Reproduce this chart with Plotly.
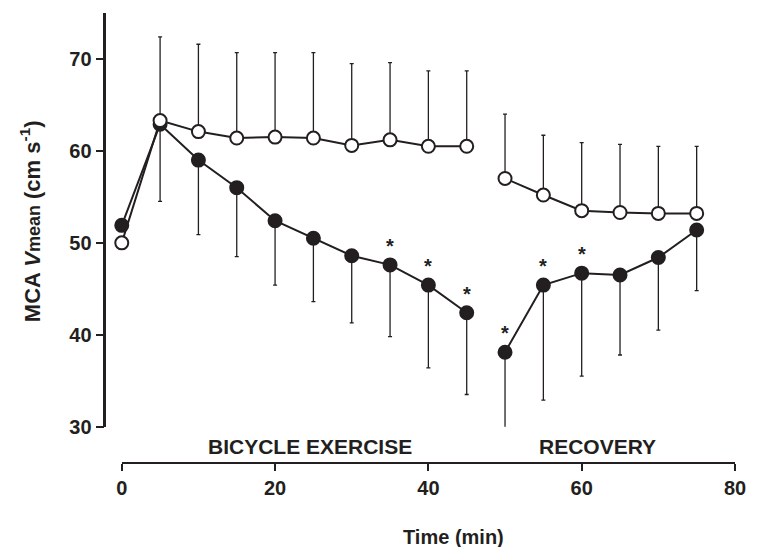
import plotly.graph_objects as go

# ---- data ----
time_exercise = [0, 5, 10, 15, 20, 25, 30, 35, 40, 45]
time_recovery = [50, 55, 60, 65, 70, 75]

closed_exercise = [51.9, 62.9, 59.0, 56.0, 52.4, 50.5, 48.6, 47.6, 45.4, 42.4]
closed_recovery = [38.1, 45.4, 46.7, 46.5, 48.4, 51.4]
closed_sd_exercise = [0, 8.4, 8.1, 7.5, 7.0, 6.9, 7.3, 7.8, 9.0, 8.9]
closed_sd_recovery = [8.2, 12.5, 11.2, 8.7, 7.9, 6.6]

open_exercise = [50.0, 63.3, 62.1, 61.4, 61.5, 61.4, 60.6, 61.2, 60.5, 60.5]
open_recovery = [57.0, 55.2, 53.5, 53.3, 53.2, 53.2]
open_sd_exercise = [0, 9.1, 9.5, 9.3, 9.2, 9.3, 8.9, 8.4, 8.2, 8.2]
open_sd_recovery = [7.0, 6.5, 7.4, 7.4, 7.3, 7.3]

star_times = [35, 40, 45, 50, 55, 60]

x_ticks = [0, 20, 40, 60, 80]
y_ticks = [30, 40, 50, 60, 70]

phase_labels = ["BICYCLE EXERCISE", "RECOVERY"]
phase_centers = [24.5, 62.0]

# ---- style ----
INK = "#231f20"
FONT = "Liberation Sans, Arial, sans-serif"

fig = go.Figure()

def add_series(x, y, sd, filled):
    zeros = [0] * len(sd)
    fig.add_trace(go.Scatter(
        x=x, y=y, mode="lines+markers",
        line=dict(color=INK, width=2),
        marker=dict(size=13, color=INK if filled else "white",
                    line=dict(color=INK, width=2)),
        error_y=dict(type="data", symmetric=False,
                     array=zeros if filled else sd,
                     arrayminus=sd if filled else zeros,
                     color=INK, thickness=1.3, width=2),
        showlegend=False, cliponaxis=False,
    ))

add_series(time_exercise, closed_exercise, closed_sd_exercise, True)
add_series(time_recovery, closed_recovery, closed_sd_recovery, True)
add_series(time_exercise, open_exercise, open_sd_exercise, False)
add_series(time_recovery, open_recovery, open_sd_recovery, False)

all_t = time_exercise + time_recovery
all_c = closed_exercise + closed_recovery

annotations = []
for t in star_times:
    annotations.append(dict(
        x=t, y=all_c[all_t.index(t)], xref="x", yref="y", text="<b>*</b>",
        showarrow=False, yshift=19,
        font=dict(family=FONT, size=20, color=INK),
        xanchor="center", yanchor="middle"))

for lab, cx in zip(phase_labels, phase_centers):
    annotations.append(dict(
        x=cx, y=0.0367, xref="x", yref="paper", text=f"<b>{lab}</b>",
        showarrow=False, font=dict(family=FONT, size=21, color=INK),
        xanchor="center", yanchor="middle"))

annotations.append(dict(
    x=0.5825, y=-0.164, xref="paper", yref="paper", text="<b>Time (min)</b>",
    showarrow=False, font=dict(family=FONT, size=20, color=INK),
    xanchor="center", yanchor="middle"))

annotations.append(dict(
    x=-0.044, y=0.538, xref="paper", yref="paper",
    text="<b>MCA <i>V</i><span style='font-size:18px'>mean</span> (cm s<sup>-1</sup>)</b>",
    textangle=-90, showarrow=False,
    font=dict(family=FONT, size=22, color=INK),
    xanchor="center", yanchor="middle"))

fig.update_layout(
    width=758, height=547,
    margin=dict(l=60, r=13, t=13, b=84),
    paper_bgcolor="white", plot_bgcolor="white",
    font=dict(family=FONT, color=INK),
    xaxis=dict(
        domain=[0.0915, 1.0], range=[0, 80], anchor="free", position=0,
        tickvals=x_ticks, ticktext=[f"<b>{v}</b>" for v in x_ticks],
        tickfont=dict(family=FONT, size=20, color=INK),
        showline=True, linecolor=INK, linewidth=2,
        ticks="outside", ticklen=7, tickwidth=2, tickcolor=INK,
        showgrid=False, zeroline=False,
    ),
    yaxis=dict(
        domain=[0.0807, 1.0], range=[30, 75], anchor="free", position=0.0657,
        tickvals=y_ticks, ticktext=[f"<b>{v}</b>" for v in y_ticks],
        tickfont=dict(family=FONT, size=20, color=INK),
        showline=True, linecolor=INK, linewidth=2.5,
        ticks="outside", ticklen=8, tickwidth=2, tickcolor=INK,
        showgrid=False, zeroline=False,
    ),
    annotations=annotations,
)

fig.write_html("out.html", post_script="document.body.style.margin='0';",
               config={"displayModeBar": False})
